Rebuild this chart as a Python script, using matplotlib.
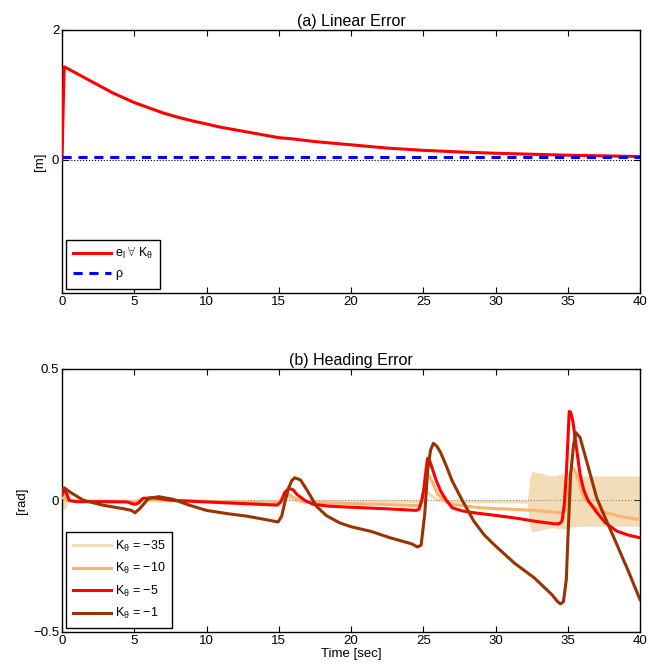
import numpy as np
import matplotlib.pyplot as plt

plt.rcParams['font.family'] = ['Liberation Sans', 'DejaVu Sans']
plt.rcParams['mathtext.fontset'] = 'custom'
plt.rcParams['mathtext.rm'] = 'Liberation Sans'
plt.rcParams['mathtext.it'] = 'Liberation Sans'
plt.rcParams['xtick.direction'] = 'in'
plt.rcParams['ytick.direction'] = 'in'
plt.rcParams['xtick.top'] = True
plt.rcParams['ytick.right'] = True

# linear error (same for every K_theta) and the bound rho
t_lin = [0, 0.08, 0.15, 0.5, 1, 1.5, 2, 2.5, 3, 3.5, 4, 5, 6, 7, 8, 9, 10,
         11, 12, 13, 14, 15, 16, 17.5, 20, 22.5, 25, 27.5, 30, 32.5, 35,
         37.5, 40]
e_lin = [0, 0.8, 1.43, 1.39, 1.33, 1.27, 1.21, 1.15, 1.09, 1.03, 0.98,
         0.88, 0.80, 0.72, 0.655, 0.60, 0.55, 0.50, 0.46, 0.42, 0.38, 0.34,
         0.32, 0.28, 0.23, 0.18, 0.145, 0.12, 0.10, 0.085, 0.07, 0.06, 0.05]
t_rho = [0, 40]
rho = [0.05, 0.05]

# heading error for each gain
t_k1 = [0, 0.15, 0.6, 1.5, 2.9, 4.3, 4.8, 5.05, 5.4, 6.0, 6.7, 7.7, 8.8, 10.0,
        11.4, 12.8, 14.0, 14.95, 15.2, 15.45, 15.7, 15.9, 16.1, 16.5, 17.0,
        17.6, 18.3, 19.2, 20.0, 21.4, 22.7, 24.2, 24.6, 24.85, 25.1, 25.3,
        25.5, 25.7, 25.95, 26.2, 26.6, 27.0, 27.7, 28.5, 29.2, 29.9, 31.3,
        32.7, 33.9, 34.3, 34.5, 34.7, 34.9, 35.0, 35.2, 35.4, 35.55, 35.85,
        36.4, 37.0, 37.7, 38.4, 39.2, 40]
k1 = [0.035, 0.048, 0.03, 0.0, -0.019, -0.032, -0.038, -0.047, -0.03, 0.008,
      0.014, 0.004, -0.018, -0.038, -0.05, -0.06, -0.072, -0.082, -0.06,
      0.0, 0.05, 0.075, 0.086, 0.078, 0.035, -0.022, -0.058, -0.085, -0.1,
      -0.118, -0.142, -0.165, -0.177, -0.17, -0.053, 0.112, 0.19, 0.217,
      0.205, 0.182, 0.13, 0.074, 0.0, -0.079, -0.13, -0.168, -0.238, -0.295,
      -0.358, -0.385, -0.393, -0.385, -0.3, -0.155, 0.099, 0.21, 0.258,
      0.239, 0.13, 0.01, -0.08, -0.168, -0.27, -0.377]

t_k5 = [0, 0.1, 0.2, 0.5, 1.0, 3.0, 4.5, 5.0, 5.3, 5.6, 6.3, 7.7, 10.0, 12.5,
        14.9, 15.15, 15.4, 15.7, 16.0, 16.25, 16.8, 17.4, 18.5, 20.0, 22.5,
        24.5, 24.7, 24.9, 25.05, 25.2, 25.3, 25.45, 25.6, 25.9, 26.2, 26.6,
        27.0, 27.7, 28.5, 30.0, 31.5, 32.7, 34.1, 34.4, 34.6, 34.75, 34.9,
        35.0, 35.1, 35.2, 35.35, 35.6, 35.85, 36.1, 36.4, 37.0, 37.6, 38.4,
        39.2, 40]
k5 = [0.02, 0.035, 0.042, 0.0, -0.005, -0.005, -0.006, -0.015, -0.01, 0.008,
      0.01, 0.0, -0.006, -0.012, -0.018, -0.005, 0.029, 0.046, 0.04, 0.023,
      0.0, -0.015, -0.022, -0.026, -0.032, -0.038, -0.034, 0.0, 0.048, 0.12,
      0.16, 0.15, 0.125, 0.075, 0.036, 0.0, -0.028, -0.04, -0.047, -0.057,
      -0.068, -0.079, -0.089, -0.089, -0.079, -0.02, 0.099, 0.22, 0.338,
      0.335, 0.302, 0.2, 0.099, 0.04, 0.0, -0.045, -0.085, -0.117, -0.132,
      -0.142]

t_k10 = [0, 0.1, 0.3, 1, 4.5, 5.0, 5.5, 6, 10, 14.9, 15.3, 15.6, 16.0, 16.5,
         17.0, 20, 24.8, 25.0, 25.2, 25.4, 25.7, 26.0, 26.5, 27.0, 28.9,
         32.7, 34.5, 34.8, 35.0, 35.2, 35.35, 35.6, 36.1, 36.7, 37.3, 38.5, 40]
k10 = [0.01, 0.03, 0.0, -0.003, -0.004, -0.01, 0.004, 0.003, -0.004, -0.01,
       0.01, 0.025, 0.012, -0.002, -0.008, -0.012, -0.02, 0.03, 0.1, 0.095,
       0.06, 0.023, -0.002, -0.015, -0.028, -0.038, -0.047, -0.04, 0.03,
       0.11, 0.125, 0.1, 0.01, -0.02, -0.041, -0.06, -0.073]

t_k35 = [0, 0.1, 0.2, 0.4, 1, 4.8, 5.0, 5.3, 10, 15.0, 15.4, 15.7, 16.2, 17,
         24.9, 25.2, 25.5, 26, 27, 32.2]
k35 = [0, 0.02, -0.03, 0.0, -0.002, -0.003, -0.006, 0.0, -0.004, -0.005,
       0.015, 0.01, 0.0, -0.005, -0.005, 0.038, 0.02, 0.0, -0.005, -0.006]
# chattering envelope of K = -35 after t ~ 32 s
t_chat = [32.2, 32.35, 32.5, 33.0, 33.5, 34.0, 34.5, 35.0, 35.3, 35.5, 36,
          38, 40]
chat_hi = [-0.006, 0.08, 0.11, 0.105, 0.098, 0.093, 0.1, 0.105, 0.12, 0.095,
           0.093, 0.093, 0.093]
chat_lo = [-0.006, -0.09, -0.12, -0.115, -0.108, -0.104, -0.108, -0.11,
           -0.1, -0.1, -0.098, -0.098, -0.098]

c35 = '#F3DDB8'
c10 = '#FDB26E'
c5 = '#FF0000'
c1 = '#993300'

fig = plt.figure(figsize=(6.48, 6.68), dpi=100)
ax1 = fig.add_axes([0.0957, 0.5614, 0.892, 0.394])
ax2 = fig.add_axes([0.0957, 0.0539, 0.892, 0.394])

leg_kw = dict(loc='lower left', fontsize=9, handlelength=3.1,
              fancybox=False, edgecolor='k', framealpha=1,
              borderaxespad=0.35, handletextpad=0.3, borderpad=0.5)

ax1.axhline(0, color='k', ls=':', lw=0.8, zorder=1)
ax1.plot(t_lin, e_lin, color=c5, lw=2.2,
         label=r'$\mathrm{e_l}\ \forall\ \mathrm{K_\theta}$', zorder=3)
ax1.plot(t_rho, rho, color='#0000FF', lw=2.2, ls=(0, (3, 2.2)),
         label=r'$\rho$', zorder=4)
ax1.set_xlim(0, 40)
ax1.set_ylim(-2.05, 2)
ax1.set_yticks([0, 2])
ax1.set_xticks(range(0, 41, 5))
ax1.set_ylabel('[m]', fontsize=9.5, labelpad=4)
ax1.set_title('(a) Linear Error', fontsize=11.5, pad=3)
leg1 = ax1.legend(labelspacing=0.55, **leg_kw)
leg1.get_frame().set_linewidth(1.0)

ax2.fill_between(t_chat, chat_lo, chat_hi, color=c35, lw=0, zorder=1)
ax2.plot(t_k35, k35, color=c35, lw=2.2,
         label=r'$\mathrm{K_\theta}$ = −35', zorder=2)
ax2.axhline(0, color='#888888', ls=':', lw=0.8, zorder=2.5)
ax2.plot(t_k10, k10, color=c10, lw=2.2,
         label=r'$\mathrm{K_\theta}$ = −10', zorder=3)
ax2.plot(t_k5, k5, color=c5, lw=2.2,
         label=r'$\mathrm{K_\theta}$ = −5', zorder=4)
ax2.plot(t_k1, k1, color=c1, lw=2.2,
         label=r'$\mathrm{K_\theta}$ = −1', zorder=5)
ax2.set_xlim(0, 40)
ax2.set_ylim(-0.5, 0.5)
ax2.set_yticks([-0.5, 0, 0.5])
ax2.set_yticklabels(['−0.5', '0', '0.5'])
ax2.set_xticks(range(0, 41, 5))
ax2.set_ylabel('[rad]', fontsize=9.5)
ax2.set_xlabel('Time [sec]', fontsize=9.5, labelpad=1)
ax2.set_title('(b) Heading Error', fontsize=11.5, pad=3)
leg2 = ax2.legend(labelspacing=0.6, **leg_kw)
leg2.get_frame().set_linewidth(1.0)

for ax in (ax1, ax2):
    ax.tick_params(labelsize=9.5, length=4, width=0.8, pad=2)
    for s in ax.spines.values():
        s.set_linewidth(1.0)

plt.savefig('out.png', dpi=100)
